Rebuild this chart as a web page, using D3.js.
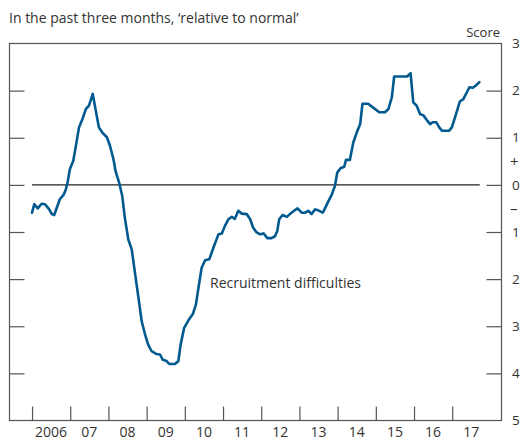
<!DOCTYPE html>
<html>
<head>
<meta charset="utf-8">
<script src="https://cdn.jsdelivr.net/npm/d3@7"></script>
<style>
  body { margin: 0; background: #fff; }
  text { font-family: "Open Sans", "Noto Sans", sans-serif; fill: #333; }
</style>
</head>
<body>
<svg id="chart" width="520" height="441"></svg>
<script>
// Recruitment difficulties score (decimal year, score)
const dates = [
  2006.00, 2006.06, 2006.15, 2006.25, 2006.34, 2006.45, 2006.52, 2006.58, 2006.65, 2006.73,
  2006.82, 2006.88, 2006.93, 2006.99, 2007.08, 2007.14, 2007.23, 2007.32, 2007.41, 2007.49,
  2007.59, 2007.67, 2007.75, 2007.84, 2007.96, 2008.04, 2008.13, 2008.19, 2008.28, 2008.36,
  2008.43, 2008.52, 2008.61, 2008.70, 2008.78, 2008.87, 2008.96, 2009.04, 2009.13, 2009.26,
  2009.35, 2009.42, 2009.51, 2009.59, 2009.74, 2009.83, 2009.89, 2009.98, 2010.09, 2010.21,
  2010.29, 2010.35, 2010.44, 2010.53, 2010.64, 2010.75, 2010.88, 2010.97, 2011.05, 2011.14,
  2011.23, 2011.31, 2011.40, 2011.49, 2011.62, 2011.71, 2011.79, 2011.88, 2011.97, 2012.06,
  2012.16, 2012.27, 2012.36, 2012.42, 2012.47, 2012.56, 2012.67, 2012.75, 2012.86, 2012.95,
  2013.06, 2013.15, 2013.23, 2013.32, 2013.41, 2013.49, 2013.61, 2013.65, 2013.75, 2013.85,
  2013.93, 2013.99, 2014.08, 2014.17, 2014.22, 2014.32, 2014.41, 2014.50, 2014.59, 2014.65,
  2014.80, 2014.93, 2015.09, 2015.24, 2015.33, 2015.42, 2015.48, 2015.82, 2015.91, 2015.98,
  2016.07, 2016.16, 2016.24, 2016.33, 2016.42, 2016.49, 2016.58, 2016.66, 2016.73, 2016.92,
  2016.99, 2017.10, 2017.20, 2017.29, 2017.38, 2017.45, 2017.54, 2017.62, 2017.71
];
const scores = [
  -0.59, -0.41, -0.50, -0.40, -0.41, -0.52, -0.62, -0.64, -0.48, -0.30,
  -0.22, -0.11, 0.05, 0.33, 0.51, 0.79, 1.22, 1.40, 1.61, 1.68,
  1.93, 1.57, 1.22, 1.11, 1.01, 0.83, 0.55, 0.28, 0.05, -0.23,
  -0.70, -1.16, -1.37, -1.90, -2.36, -2.89, -3.18, -3.39, -3.53, -3.59,
  -3.60, -3.71, -3.73, -3.80, -3.80, -3.74, -3.39, -3.04, -2.88, -2.74,
  -2.54, -2.22, -1.76, -1.60, -1.58, -1.33, -1.05, -1.03, -0.87, -0.73,
  -0.68, -0.72, -0.55, -0.61, -0.62, -0.73, -0.91, -1.01, -1.05, -1.03,
  -1.13, -1.13, -1.09, -0.98, -0.73, -0.64, -0.68, -0.62, -0.55, -0.50,
  -0.59, -0.59, -0.55, -0.62, -0.52, -0.54, -0.59, -0.53, -0.36, -0.20,
  -0.02, 0.26, 0.36, 0.38, 0.53, 0.53, 0.90, 1.11, 1.29, 1.72,
  1.72, 1.64, 1.54, 1.54, 1.61, 1.86, 2.30, 2.30, 2.37, 1.75,
  1.68, 1.50, 1.48, 1.38, 1.29, 1.33, 1.33, 1.22, 1.15, 1.15,
  1.22, 1.50, 1.77, 1.82, 1.96, 2.07, 2.06, 2.11, 2.18
];

const yearTicks = [2006, 2007, 2008, 2009, 2010, 2011, 2012, 2013, 2014, 2015, 2016, 2017];
const yearLabels = ["2006", "07", "08", "09", "10", "11", "12", "13", "14", "15", "16", "17"];
const scoreTicks = [3, 2, 1, 0, -1, -2, -3, -4, -5];
const scoreLabels = ["3", "2", "1", "0", "1", "2", "3", "4", "5"];

const svg = d3.select("#chart");
const x0 = 9.5, x1 = 501.5, y0 = 43.5, y1 = 420.5;

const x = d3.scaleLinear().domain([2005.41, 2018.29]).range([x0, x1]);
const y = d3.scaleLinear().domain([-5, 3]).range([y1, y0]);

// title and unit
svg.append("text").attr("x", 9).attr("y", 23).attr("font-size", 14).text("In the past three months, \u2018relative to normal\u2019");
svg.append("text").attr("x", 500).attr("y", 37).attr("text-anchor", "end").attr("font-size", 13).text("Score");

// frame
svg.append("rect").attr("x", x0).attr("y", y0).attr("width", x1 - x0).attr("height", y1 - y0)
  .attr("fill", "none").attr("stroke", "#555").attr("stroke-width", 1.2);

// inward ticks on both sides
const inner = scoreTicks.filter(d => d > -5 && d < 3);
svg.append("g").attr("transform", `translate(${x1},0)`)
  .call(d3.axisLeft(y).tickValues(inner).tickSize(15).tickFormat(""))
  .call(g => g.select(".domain").remove())
  .call(g => g.selectAll("line").attr("stroke", "#555").attr("stroke-width", 1.2));
svg.append("g").attr("transform", `translate(${x0},0)`)
  .call(d3.axisRight(y).tickValues(inner).tickSize(15).tickFormat(""))
  .call(g => g.select(".domain").remove())
  .call(g => g.selectAll("line").attr("stroke", "#555").attr("stroke-width", 1.2));

// right labels
svg.append("g").selectAll("text").data(scoreTicks).join("text")
  .attr("x", 512).attr("y", d => y(d)).attr("dy", "0.35em").attr("font-size", 13.5)
  .text((d, i) => scoreLabels[i]);
svg.append("text").attr("x", 510).attr("y", y(0.5)).attr("dy", "0.35em").attr("font-size", 15).text("+");
svg.append("text").attr("x", 510).attr("y", y(-0.5)).attr("dy", "0.35em").attr("font-size", 15).text("\u2013");

// bottom ticks and year labels
svg.append("g").attr("transform", `translate(0,${y1})`)
  .call(d3.axisTop(x).tickValues(yearTicks).tickSize(14).tickFormat(""))
  .call(g => g.select(".domain").remove())
  .call(g => g.selectAll("line").attr("stroke", "#555").attr("stroke-width", 1.2));
svg.append("g").selectAll("text").data(yearTicks).join("text")
  .attr("x", d => x(d + 0.5)).attr("y", 437).attr("text-anchor", "middle").attr("font-size", 14)
  .text((d, i) => yearLabels[i]);

// zero line
svg.append("line").attr("x1", x(2006)).attr("x2", x(2017.72)).attr("y1", y(0)).attr("y2", y(0))
  .attr("stroke", "#222").attr("stroke-width", 1.2);

// series
const pts = dates.map((d, i) => [d, scores[i]]);
svg.append("path").datum(pts)
  .attr("fill", "none").attr("stroke", "#005a8f").attr("stroke-width", 2.6)
  .attr("stroke-linejoin", "round").attr("stroke-linecap", "round")
  .attr("d", d3.line().x(d => x(d[0])).y(d => y(d[1])));

svg.append("text").attr("x", 210).attr("y", 288).attr("font-size", 14).text("Recruitment difficulties");
</script>
</body>
</html>
